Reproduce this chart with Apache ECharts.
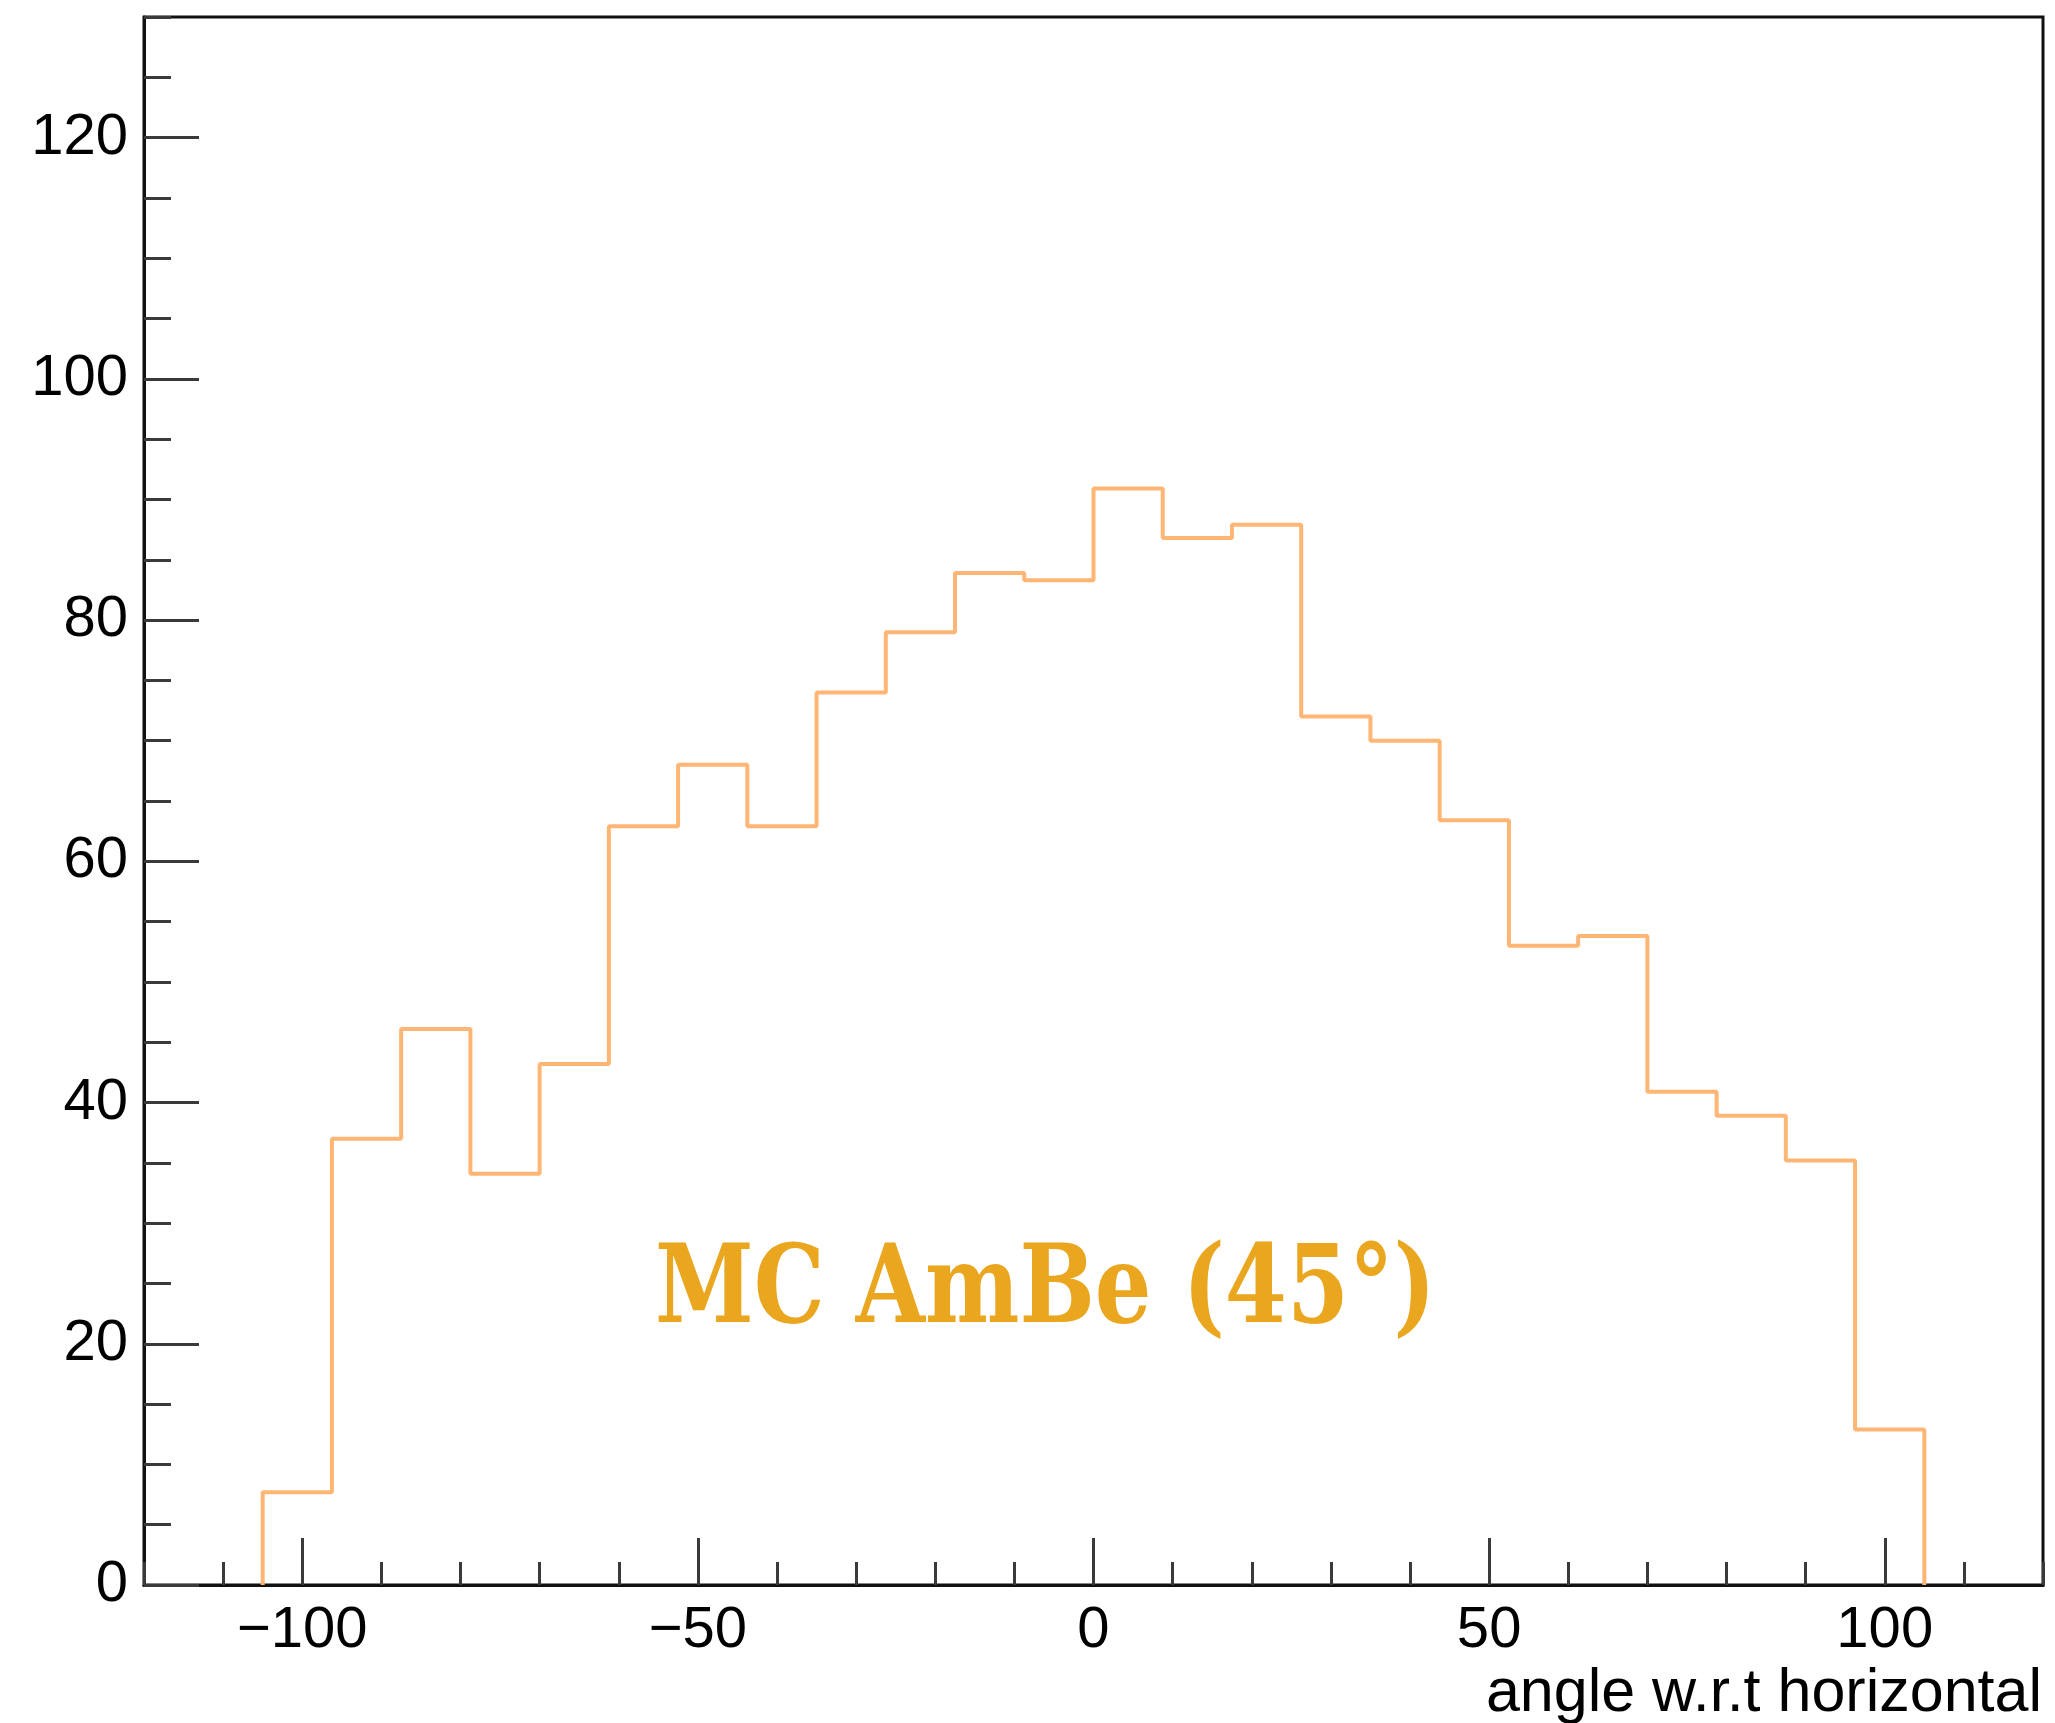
<!DOCTYPE html>
<html>
<head>
<meta charset="utf-8">
<script src="https://cdn.jsdelivr.net/npm/echarts@6/dist/echarts.min.js"></script>
<style>
html,body{margin:0;padding:0;background:#fff;}
#chart{width:2055px;height:1723px;}
</style>
</head>
<body>
<div id="chart"></div>
<script>
// ---- data ----
const binEdges = [-105, -96.25, -87.5, -78.75, -70, -61.25, -52.5, -43.75, -35, -26.25, -17.5, -8.75,
                  0, 8.75, 17.5, 26.25, 35, 43.75, 52.5, 61.25, 70, 78.75, 87.5, 96.25, 105];
const binCounts = [7.7, 37, 46.1, 34.1, 43.2, 62.9, 68, 62.9, 74, 79, 83.9, 83.3,
                   90.9, 86.8, 87.9, 72, 70, 63.4, 53, 53.8, 40.9, 38.9, 35.2, 12.9];
const xTickLabels = [-100, -50, 0, 50, 100];
const yTickLabels = [0, 20, 40, 60, 80, 100, 120];
const xTitle = 'angle w.r.t horizontal';
const annotation = 'MC AmBe (45°)';

// histogram outline points (step drawn by the library)
const histPoints = [[binEdges[0], 0]];
for (let i = 0; i < binCounts.length; i++) histPoints.push([binEdges[i], binCounts[i]]);
histPoints.push([binEdges[binEdges.length - 1], 0]);

const axisColor = '#111';
const tickColor = '#3a3a3a';
const labelFont = 'Liberation Sans';
const minus = v => String(v).replace('-', '\u2212');

const chart = echarts.init(document.getElementById('chart'), null, {renderer: 'canvas'});
chart.setOption({
  animation: false,
  backgroundColor: '#fff',
  grid: {left: 144, top: 17, right: 12, bottom: 138, show: true, borderColor: axisColor, borderWidth: 3,
         containLabel: false, outerBoundsMode: 'none'},
  xAxis: [
    { type: 'value', min: -120, max: 120, interval: 10, position: 'bottom',
      axisLine: {show: true, onZero: false, lineStyle: {color: axisColor, width: 3}},
      axisTick: {show: true, inside: true, length: 47, lineStyle: {color: tickColor, width: 3},
                 customValues: xTickLabels},
      axisLabel: {show: true, customValues: xTickLabels, formatter: minus, margin: 17,
                  fontFamily: labelFont, fontSize: 58, color: '#000'},
      splitLine: {show: false} },
    { type: 'value', min: -120, max: 120, interval: 10, position: 'bottom',
      axisLine: {show: false, onZero: false},
      axisTick: {show: true, inside: true, length: 23, lineStyle: {color: tickColor, width: 3}},
      axisLabel: {show: false}, splitLine: {show: false} }
  ],
  yAxis: [
    { type: 'value', min: 0, max: 130, interval: 20, position: 'left',
      axisLine: {show: true, onZero: false, lineStyle: {color: axisColor, width: 3}},
      axisTick: {show: true, inside: true, length: 55, lineStyle: {color: tickColor, width: 3},
                 customValues: yTickLabels},
      axisLabel: {show: true, customValues: yTickLabels, margin: 16,
                  fontFamily: labelFont, fontSize: 58, color: '#000'},
      splitLine: {show: false} },
    { type: 'value', min: 0, max: 130, interval: 5, position: 'left',
      axisLine: {show: false, onZero: false},
      axisTick: {show: true, inside: true, length: 27, lineStyle: {color: tickColor, width: 3}},
      axisLabel: {show: false}, splitLine: {show: false} }
  ],
  series: [{
    type: 'line', xAxisIndex: 0, yAxisIndex: 0, step: 'end', symbol: 'none',
    data: histPoints,
    lineStyle: {color: '#ffb574', width: 4},
    silent: true
  }],
  graphic: [
    { type: 'text', x: 2042, y: 1664,
      style: {text: xTitle, fontFamily: labelFont, fontSize: 61, fill: '#000',
              textAlign: 'right', textVerticalAlign: 'top'} },
    { type: 'text', x: 655, y: 1294, scaleX: 0.826,
      style: {text: annotation, fontFamily: 'DejaVu Serif', fontWeight: 'bold', fontSize: 108,
              fill: '#eaa61e', textAlign: 'left', textVerticalAlign: 'middle'} }
  ]
});
</script>
</body>
</html>
